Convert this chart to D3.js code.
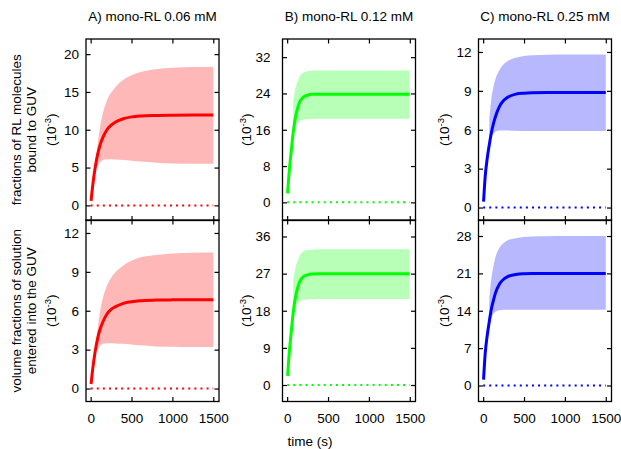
<!DOCTYPE html>
<html>
<head>
<meta charset="utf-8">
<script src="https://cdn.jsdelivr.net/npm/d3@7/dist/d3.min.js"></script>
<style>
  body { margin: 0; background: #fff; }
  text { font-family: "Liberation Sans", Arial, sans-serif; fill: #000; }
</style>
</head>
<body>
<svg id="chart" width="621" height="449"></svg>
<script>
// time points (s)
const timeMean = [5, 25, 50, 75, 100, 125, 150, 200, 250, 300, 400, 500, 600, 800, 1000, 1250, 1500];
const timeBand = [75, 100, 125, 150, 200, 250, 300, 400, 500, 600, 800, 1000, 1250, 1500];
const timeTicks = [0, 500, 1000, 1500];

const titles = ["A) mono-RL 0.06 mM", "B) mono-RL 0.12 mM", "C) mono-RL 0.25 mM"];
const colors = ["#ff0000", "#00ff00", "#0000ff"];

// fractions of RL molecules bound to GUV (10^-3)
const boundA = [0.6, 2.6, 4.6, 6.2, 7.4, 8.3, 9.0, 10.0, 10.6, 11.0, 11.45, 11.7, 11.82, 11.9, 11.93, 11.95, 11.95];
const boundAUp = [7.0, 9.3, 11.0, 12.2, 13.9, 14.9, 15.6, 16.6, 17.2, 17.6, 18.0, 18.2, 18.3, 18.3];
const boundALow = [5.0, 5.5, 5.8, 6.0, 6.1, 6.1, 6.05, 6.0, 5.9, 5.8, 5.65, 5.55, 5.5, 5.5];
const boundB = [2.0, 6.8, 11.3, 15.6, 18.6, 20.6, 22.0, 23.2, 23.6, 23.8, 23.85, 23.85, 23.85, 23.85, 23.85, 23.85, 23.85];
const boundBUp = [22.5, 25.0, 26.5, 27.6, 28.6, 28.9, 29.0, 29.05, 29.05, 29.05, 29.05, 29.05, 29.05, 29.05];
const boundBLow = [15.0, 16.5, 17.3, 17.8, 18.2, 18.3, 18.35, 18.4, 18.4, 18.4, 18.4, 18.4, 18.4, 18.4];
const boundC = [0.45, 2.4, 3.8, 4.85, 5.75, 6.45, 7.0, 7.8, 8.25, 8.5, 8.75, 8.82, 8.85, 8.87, 8.87, 8.87, 8.87];
const boundCUp = [6.8, 8.4, 9.3, 9.9, 10.6, 11.05, 11.3, 11.55, 11.68, 11.74, 11.78, 11.8, 11.8, 11.8];
const boundCLow = [4.5, 5.4, 5.7, 5.85, 5.95, 5.95, 5.95, 5.92, 5.9, 5.9, 5.9, 5.9, 5.9, 5.9];

// volume fractions of solution entered into the GUV (10^-3)
const volA = [0.35, 1.5, 2.65, 3.55, 4.25, 4.75, 5.15, 5.75, 6.1, 6.3, 6.57, 6.7, 6.77, 6.82, 6.84, 6.85, 6.85];
const volAUp = [4.0, 5.3, 6.3, 7.0, 7.95, 8.55, 8.95, 9.5, 9.85, 10.1, 10.3, 10.42, 10.48, 10.5];
const volALow = [2.9, 3.15, 3.35, 3.45, 3.5, 3.5, 3.48, 3.45, 3.4, 3.33, 3.25, 3.22, 3.2, 3.2];
const volB = [2.2, 7.7, 12.8, 17.7, 21.1, 23.3, 24.9, 26.3, 26.7, 26.9, 27.0, 27.0, 27.0, 27.0, 27.0, 27.0, 27.0];
const volBUp = [25.5, 28.3, 30.0, 31.2, 32.4, 32.7, 32.8, 32.9, 32.9, 32.9, 32.9, 32.9, 32.9, 32.9];
const volBLow = [17.0, 18.7, 19.6, 20.1, 20.6, 20.7, 20.8, 20.85, 20.85, 20.85, 20.85, 20.85, 20.85, 20.85];
const volC = [1.1, 6.0, 9.4, 12.0, 14.3, 15.9, 17.3, 19.0, 19.9, 20.4, 20.8, 20.95, 21.0, 21.0, 21.0, 21.0, 21.0];
const volCUp = [16.5, 20.0, 22.3, 24.0, 25.8, 26.7, 27.2, 27.6, 27.8, 27.9, 27.95, 28.0, 28.0, 28.0];
const volCLow = [11.0, 12.6, 13.4, 13.8, 14.1, 14.2, 14.2, 14.2, 14.2, 14.2, 14.2, 14.2, 14.2, 14.2];

const ticksBoundA = [0, 5, 10, 15, 20];
const ticksBoundB = [0, 8, 16, 24, 32];
const ticksBoundC = [0, 3, 6, 9, 12];
const ticksVolA = [0, 3, 6, 9, 12];
const ticksVolB = [0, 9, 18, 27, 36];
const ticksVolC = [0, 7, 14, 21, 28];

const panels = [
  { col: 0, row: 0, mean: boundA, up: boundAUp, low: boundALow, ticks: ticksBoundA, domain: [-2, 22] },
  { col: 1, row: 0, mean: boundB, up: boundBUp, low: boundBLow, ticks: ticksBoundB, domain: [-4, 36] },
  { col: 2, row: 0, mean: boundC, up: boundCUp, low: boundCLow, ticks: ticksBoundC, domain: [-1, 13] },
  { col: 0, row: 1, mean: volA, up: volAUp, low: volALow, ticks: ticksVolA, domain: [-1, 13] },
  { col: 1, row: 1, mean: volB, up: volBUp, low: volBLow, ticks: ticksVolB, domain: [-4, 40] },
  { col: 2, row: 1, mean: volC, up: volCUp, low: volCLow, ticks: ticksVolC, domain: [-3, 31] }
];

const colLeft = [86, 282.5, 478.5];
const labelPad = [7, 12, 7];
const rowTop = [39, 220];
const pw = 133, ph = 181.5;
const fontSize = "13.5px";

const svg = d3.select("#chart");

panels.forEach(p => {
  const x0 = colLeft[p.col], y0 = rowTop[p.row];
  const color = colors[p.col];
  const x = d3.scaleLinear().domain([-57, 1570]).range([0, pw]);
  const y = d3.scaleLinear().domain(p.domain).range([ph, 0]);
  const g = svg.append("g").attr("transform", `translate(${x0},${y0})`);

  const band = d3.area()
    .x((d, i) => x(timeBand[i]))
    .y0(d => y(d[1]))
    .y1(d => y(d[0]))
    .curve(d3.curveMonotoneX);
  g.append("path")
    .datum(p.up.map((u, i) => [u, p.low[i]]))
    .attr("d", band)
    .attr("fill", color)
    .attr("fill-opacity", 0.28);

  g.append("line")
    .attr("x1", x(0)).attr("x2", x(1500))
    .attr("y1", y(0)).attr("y2", y(0))
    .attr("stroke", color)
    .attr("stroke-width", 2)
    .attr("stroke-dasharray", "2,4.1");

  const line = d3.line()
    .x((d, i) => x(timeMean[i]))
    .y(d => y(d))
    .curve(d3.curveMonotoneX);
  g.append("path")
    .datum(p.mean)
    .attr("d", line)
    .attr("fill", "none")
    .attr("stroke", color)
    .attr("stroke-width", 3);

  // axes, ticks pointing inwards on all four sides
  const axes = [
    d3.axisLeft(y).tickValues(p.ticks).tickSize(-4.5).tickPadding(labelPad[p.col]).tickFormat(d3.format("d")),
    d3.axisRight(y).tickValues(p.ticks).tickSize(-4.5).tickFormat(""),
    d3.axisTop(x).tickValues(timeTicks).tickSize(-4.5).tickFormat(""),
    d3.axisBottom(x).tickValues(timeTicks).tickSize(-4.5).tickPadding(12)
      .tickFormat(p.row === 0 ? "" : d3.format("d"))
  ];
  const pos = [[0, 0], [pw, 0], [0, 0], [0, ph]];
  axes.forEach((ax, i) => {
    const a = g.append("g")
      .attr("transform", `translate(${pos[i][0]},${pos[i][1]})`)
      .call(ax);
    a.select(".domain").remove();
    a.attr("font-family", null).attr("font-size", null);
    a.selectAll("line").attr("stroke", "#000").attr("stroke-width", 1.2);
    a.selectAll("text").style("font-size", fontSize);
  });

  g.append("rect")
    .attr("width", pw).attr("height", ph)
    .attr("fill", "none")
    .attr("stroke", "#000")
    .attr("stroke-width", 1.3);
});

// titles
titles.forEach((t, i) => {
  svg.append("text")
    .attr("x", colLeft[i] + pw / 2)
    .attr("y", 20.5)
    .attr("text-anchor", "middle")
    .style("font-size", fontSize)
    .text(t);
});

// y labels
function unitLabel(xb, yc) {
  const t = svg.append("text")
    .attr("transform", `translate(${xb},${yc}) rotate(-90)`)
    .attr("text-anchor", "middle")
    .style("font-size", fontSize);
  t.append("tspan").text("(10");
  t.append("tspan").attr("dy", -5).style("font-size", "9.5px").text("-3");
  t.append("tspan").attr("dy", 5).text(")");
}

function textLabel(xb, yc, txt) {
  svg.append("text")
    .attr("transform", `translate(${xb},${yc}) rotate(-90)`)
    .attr("text-anchor", "middle")
    .style("font-size", fontSize)
    .text(txt);
}

const midTop = rowTop[0] + ph / 2, midBot = rowTop[1] + ph / 2;
textLabel(21, midTop, "fractions of RL molecules");
textLabel(36.3, midTop, "bound to GUV");
unitLabel(55.5, midTop);
textLabel(21, midBot, "volume fractions of solution");
textLabel(36.3, midBot, "entered into the GUV");
unitLabel(55.5, midBot);
unitLabel(250.5, midTop);
unitLabel(250.5, midBot);
unitLabel(449, midTop);
unitLabel(449, midBot);

svg.append("text")
  .attr("x", 310)
  .attr("y", 445.5)
  .attr("text-anchor", "middle")
  .style("font-size", fontSize)
  .text("time (s)");
</script>
</body>
</html>
